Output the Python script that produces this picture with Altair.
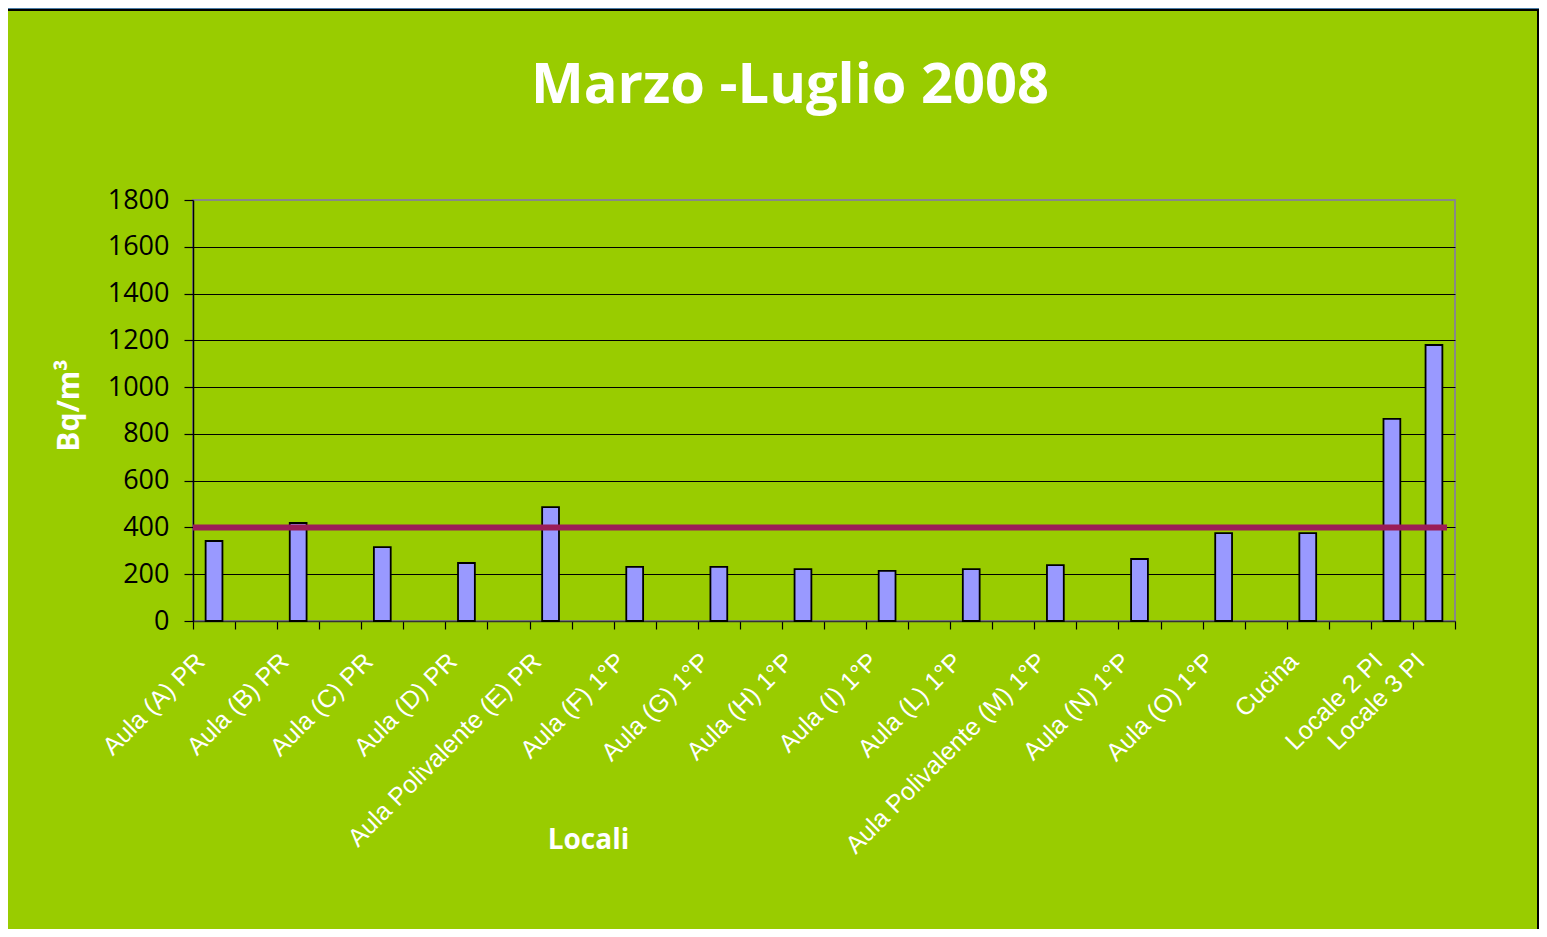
import altair as alt
import pandas as pd

# ---- data ----
locali = ["Aula (A) PR", "Aula (B) PR", "Aula (C) PR", "Aula (D) PR",
          "Aula Polivalente (E) PR", "Aula (F) 1°P", "Aula (G) 1°P",
          "Aula (H) 1°P", "Aula (I) 1°P", "Aula (L) 1°P",
          "Aula Polivalente (M) 1°P", "Aula (N) 1°P", "Aula (O) 1°P",
          "Cucina", "Locale 2 PI", "Locale 3 PI"]
valori = [342, 419, 316, 248, 487, 231, 231, 222, 214, 222, 239, 265,
          376, 376, 864, 1180]
# an empty slot follows each of these categories on the axis
vuoto_dopo = [True] * 14 + [False, False]
soglia = 400
y_ticks = [0, 200, 400, 600, 800, 1000, 1200, 1400, 1600, 1800]

# axis domain with blank slots (unique blank strings)
dominio = []
k = 0
for nome, gap in zip(locali, vuoto_dopo):
    dominio.append(nome)
    if gap:
        k += 1
        dominio.append(" " * k)

df = pd.DataFrame({"Locale": locali, "Valore": valori})
one = pd.DataFrame({"k": [0]})

GREEN = "#99CC00"
W, H = 1262, 421

x_enc = alt.X("Locale:N", sort=dominio,
              scale=alt.Scale(domain=dominio, paddingInner=0, paddingOuter=0),
              axis=alt.Axis(title="Locali", labelAngle=-45, labelAlign="right",
                            labelBaseline="middle", labelFont="Liberation Sans",
                            labelFontSize=25, labelColor="white",
                            labelPadding=28, labelOffset=-14, labelLimit=500,
                            tickBand="extent", tickSize=8, tickColor="black",
                            tickWidth=1.2, domainColor="#333333", domainWidth=1.5,
                            titleFont="Open Sans", titleFontSize=28,
                            titleFontWeight="bold", titleColor="white",
                            titleX=395, titleY=219, titleAlign="center",
                            titleBaseline="middle", labelOverlap=False))

bars = alt.Chart(df).mark_bar(
    fill="#9999FF", stroke="black", strokeWidth=1.8,
    width=alt.RelativeBandSize(0.4)
).encode(
    x=x_enc,
    y=alt.Y("Valore:Q",
            scale=alt.Scale(domain=[0, 1800], nice=False),
            axis=alt.Axis(values=y_ticks, title="Bq/m³", grid=True, format="d",
                          gridColor={"condition": {"test": "datum.value === 1800",
                                                   "value": "#888888"},
                                     "value": "black"},
                          gridWidth=1.2, domainColor="black", domainWidth=1.5,
                          tickColor="black", tickSize=9, tickWidth=1.2,
                          labelFont="Open Sans", labelFontSize=27,
                          labelColor="black", labelPadding=15,
                          titleFont="Open Sans", titleFontSize=30,
                          titleFontWeight="bold", titleColor="white",
                          titleAngle=-90, titleX=-124, titleY=205,
                          titleAlign="center", titleBaseline="middle")),
)

rule = alt.Chart(one).mark_rule(color="#9B1D57", strokeWidth=6).encode(
    y=alt.datum(soglia), x=alt.value(0), x2=alt.value(1254)
)

# decorative slide frame
frame = alt.Chart(one).mark_rect(fillOpacity=0, stroke="black", strokeWidth=2).encode(
    x=alt.value(-187), x2=alt.value(1345), y=alt.value(-190), y2=alt.value(760)
)
strip_t = alt.Chart(one).mark_rect(fill="#4A7DA6").encode(
    x=alt.value(-190), x2=alt.value(1350), y=alt.value(-200), y2=alt.value(-191)
)

chart = alt.layer(strip_t, frame, bars, rule).properties(
    width=W, height=H,
    title=alt.TitleParams("Marzo -Luglio 2008", font="Open Sans", fontSize=56,
                          fontWeight="bold", color="white", anchor="middle",
                          dx=-34, offset=-159, baseline="alphabetic"),
    background=GREEN,
    autosize=alt.AutoSizeParams(type="none"),
    padding={"left": 185, "top": 192, "right": 84, "bottom": 308},
).configure_view(stroke="#888888", strokeWidth=2)

chart.save("out.html", embed_options={"renderer": "svg", "actions": False})
